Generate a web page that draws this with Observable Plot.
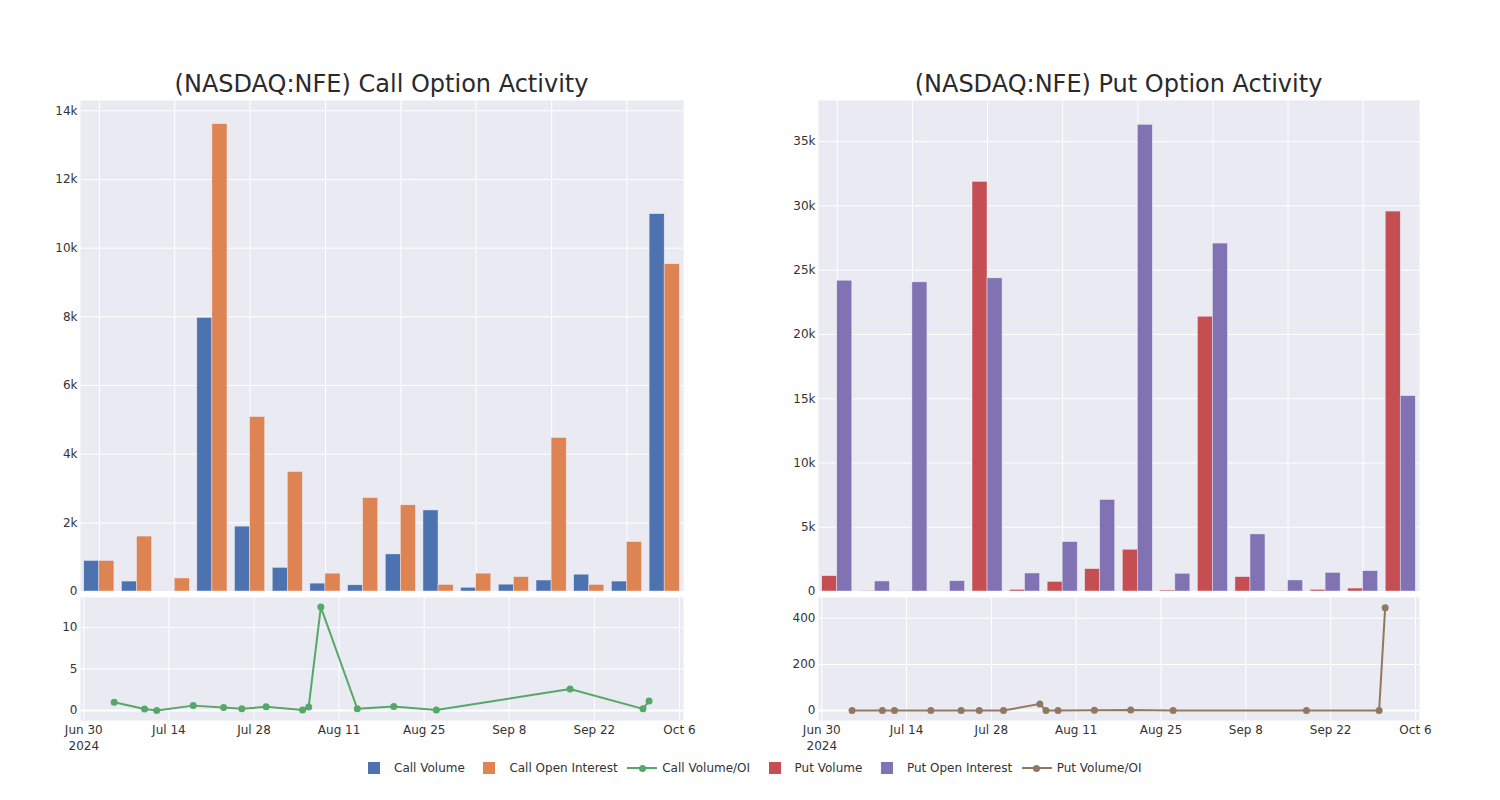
<!DOCTYPE html>
<html>
<head>
<meta charset="utf-8">
<script src="https://cdn.jsdelivr.net/npm/d3@7"></script>
<script src="https://cdn.jsdelivr.net/npm/@observablehq/plot@0.6"></script>
<style>
  body { margin: 0; background: #ffffff; font-family: "DejaVu Sans", sans-serif; }
  #root { position: relative; width: 1500px; height: 800px; overflow: hidden; background: #fff; }
  .title { position: absolute; top: 72px; font-size: 24px; line-height: 24px; color: #2a2a2a; white-space: nowrap; transform: translateX(-50%); }
  .chart { position: absolute; }
  .legend { position: absolute; top: 760px; left: 0; width: 1500px; height: 16px; display: flex; justify-content: center; align-items: center; font-size: 12px; color: #333; }
  .item { display: flex; align-items: center; margin-right: 4.5px; }
  .sym { width: 40px; height: 16px; position: relative; }
  .sq { position: absolute; left: 14px; top: 2px; width: 12px; height: 12px; }
  .ln { position: absolute; left: 5px; top: 7px; width: 30px; height: 2px; }
  .dt { position: absolute; left: 16.5px; top: 4.5px; width: 7px; height: 7px; border-radius: 50%; }
</style>
</head>
<body>
<div id="root"></div>
<script>
// ---------------- data ----------------
const dates = ["2024-07-05","2024-07-10","2024-07-12","2024-07-18","2024-07-23","2024-07-26","2024-07-30","2024-08-05","2024-08-06","2024-08-08","2024-08-14","2024-08-20","2024-08-27","2024-09-18","2024-09-30","2024-10-01"];

const callVolume       = [890, 290, 0, 7970, 1890, 690, 230, 180, 1080, 2360, 110, 200, 320, 490, 290, 10990];
const callOpenInterest = [890, 1600, 380, 13610, 5080, 3480, 520, 2720, 2510, 190, 520, 420, 4470, 190, 1440, 9530];
const callVolumeOI     = [1.0, 0.18, 0, 0.59, 0.37, 0.2, 0.45, 0.07, 0.43, 12.45, 0.21, 0.48, 0.07, 2.58, 0.2, 1.15];

const putVolume        = [1190, 15, 10, 20, 31870, 130, 750, 1740, 3250, 80, 21380, 1120, 15, 130, 230, 29560];
const putOpenInterest  = [24180, 780, 24050, 800, 24360, 1400, 3840, 7120, 36310, 1380, 27070, 4440, 860, 1450, 1580, 15200];
const putVolumeOI      = [0, 0, 0, 0, 0.5, 0, 0, 29, 0, 0, 1, 3, 0, 0, 0, 446];

const titles = ["(NASDAQ:NFE) Call Option Activity", "(NASDAQ:NFE) Put Option Activity"];
const seriesNames = ["Call Volume", "Call Open Interest", "Call Volume/OI", "Put Volume", "Put Open Interest", "Put Volume/OI"];
const seriesColors = ["#4C72B0", "#DD8452", "#55A868", "#C44E52", "#8172B3", "#937860"];
const seriesKinds = ["bar", "bar", "line", "bar", "bar", "line"];

const callBarTicks = [0, 2000, 4000, 6000, 8000, 10000, 12000, 14000];
const putBarTicks = [0, 5000, 10000, 15000, 20000, 25000, 30000, 35000];
const callRatioTicks = [0, 5, 10];
const putRatioTicks = [0, 200, 400];
const callBarMax = 14300;
const putBarMax = 38200;
const callRatioDomain = [-1.2, 13.6];
const putRatioDomain = [-43, 490];

const timeTicks = ["2024-06-30","2024-07-14","2024-07-28","2024-08-11","2024-08-25","2024-09-08","2024-09-22","2024-10-06"];
const timeTickLabels = ["Jun 30\n2024","Jul 14","Jul 28","Aug 11","Aug 25","Sep 8","Sep 22","Oct 6"];
const timeDomain = ["2024-06-29T11:00:00Z", "2024-10-06T16:00:00Z"];

// ---------------- helpers ----------------
const BG = "#EAEAF2";
const parse = d3.utcParse("%Y-%m-%d");
const tickDates = timeTicks.map(parse);
const labelByTime = new Map(tickDates.map((d, i) => [+d, timeTickLabels[i]]));
const baseStyle = {background: "transparent", overflow: "visible", fontFamily: "DejaVu Sans, sans-serif", fontSize: "12px", color: "#333"};

// background layer of a bar panel: fill, horizontal grid, vertical grid on every other category
function barBackground(yMax, yTicks, marginLeft, marginRight) {
  return Plot.plot({
    width: 690, height: 511,
    marginLeft, marginRight, marginTop: 10, marginBottom: 10,
    style: baseStyle,
    x: {type: "band", domain: dates, paddingInner: 0, paddingOuter: 0, axis: null, round: false},
    y: {domain: [0, yMax], axis: null},
    marks: [
      Plot.frame({fill: BG, stroke: "none"}),
      Plot.gridY(yTicks, {stroke: "white", strokeOpacity: 1, strokeWidth: 1}),
      Plot.gridX(dates.filter((d, i) => i % 2 === 0), {stroke: "white", strokeOpacity: 1, strokeWidth: 1}),
      Plot.axisY(yTicks, {tickSize: 0, tickPadding: 3, tickFormat: d3.format("~s"), fill: "#333", label: null})
    ]
  });
}

// bar layer (grouped bars via facets), transparent, on top of the background
function barChart(vol, oi, names, colors, yMax, marginLeft, marginRight) {
  const data = dates.flatMap((d, i) => [
    {date: d, series: names[0], value: vol[i]},
    {date: d, series: names[1], value: oi[i]}
  ]);
  return Plot.plot({
    width: 690, height: 511,
    marginLeft, marginRight, marginTop: 10, marginBottom: 10,
    style: baseStyle,
    fx: {domain: dates, paddingInner: 0, paddingOuter: 0, axis: null, round: false},
    x: {domain: names, paddingInner: 0, paddingOuter: 0.25, axis: null, round: false},
    y: {domain: [0, yMax], axis: null},
    color: {domain: names, range: colors},
    marks: [
      Plot.barY(data, {fx: "date", x: "series", y: "value", fill: "series", stroke: BG, strokeWidth: 0.5})
    ]
  });
}

function lineChart(values, color, yDomain, yTicks, marginLeft, marginRight) {
  const data = dates.map((d, i) => ({date: parse(d), value: values[i]}));
  return Plot.plot({
    width: 690, height: 170,
    marginLeft, marginRight, marginTop: 7, marginBottom: 40,
    style: baseStyle,
    x: {type: "utc", domain: timeDomain.map(s => new Date(s)), axis: null},
    y: {domain: yDomain, axis: null},
    marks: [
      Plot.frame({fill: BG, stroke: "none"}),
      Plot.gridX(tickDates, {stroke: "white", strokeOpacity: 1, strokeWidth: 1}),
      Plot.gridY(yTicks, {stroke: "white", strokeOpacity: 1, strokeWidth: 1}),
      Plot.ruleY([0], {stroke: "white", strokeWidth: 2}),
      Plot.line(data, {x: "date", y: "value", stroke: color, strokeWidth: 2}),
      Plot.dot(data, {x: "date", y: "value", fill: color, r: 3.5}),
      Plot.axisX(tickDates, {tickSize: 0, tickPadding: 1.5, lineHeight: 1.35, tickFormat: d => labelByTime.get(+d), fill: "#333", label: null}),
      Plot.axisY(yTicks, {tickSize: 0, tickPadding: 3, fill: "#333", label: null})
    ]
  });
}

// ---------------- layout ----------------
const root = document.getElementById("root");
function place(node, left, top) {
  node.classList.add("chart");
  node.style.left = left + "px";
  node.style.top = top + "px";
  root.appendChild(node);
}
function title(text, cx) {
  const t = document.createElement("div");
  t.className = "title";
  t.textContent = text;
  t.style.left = cx + "px";
  root.appendChild(t);
}

title(titles[0], 381.5);
title(titles[1], 1118.5);

place(barBackground(callBarMax, callBarTicks, 80, 7), 0, 90);
place(barChart(callVolume, callOpenInterest, seriesNames.slice(0, 2), seriesColors.slice(0, 2), callBarMax, 80, 7), 0, 90);
place(lineChart(callVolumeOI, seriesColors[2], callRatioDomain, callRatioTicks, 80, 7), 0, 590);
place(barBackground(putBarMax, putBarTicks, 78, 11), 740, 90);
place(barChart(putVolume, putOpenInterest, seriesNames.slice(3, 5), seriesColors.slice(3, 5), putBarMax, 78, 11), 740, 90);
place(lineChart(putVolumeOI, seriesColors[5], putRatioDomain, putRatioTicks, 78, 11), 740, 590);

// legend
const legend = document.createElement("div");
legend.className = "legend";
seriesNames.forEach((name, i) => {
  const item = document.createElement("div");
  item.className = "item";
  const sym = document.createElement("span");
  sym.className = "sym";
  if (seriesKinds[i] === "bar") {
    const sq = document.createElement("span");
    sq.className = "sq";
    sq.style.background = seriesColors[i];
    sym.appendChild(sq);
  } else {
    const ln = document.createElement("span");
    ln.className = "ln";
    ln.style.background = seriesColors[i];
    const dt = document.createElement("span");
    dt.className = "dt";
    dt.style.background = seriesColors[i];
    sym.appendChild(ln);
    sym.appendChild(dt);
  }
  const lbl = document.createElement("span");
  lbl.textContent = name;
  item.appendChild(sym);
  item.appendChild(lbl);
  legend.appendChild(item);
});
root.appendChild(legend);
</script>
</body>
</html>
